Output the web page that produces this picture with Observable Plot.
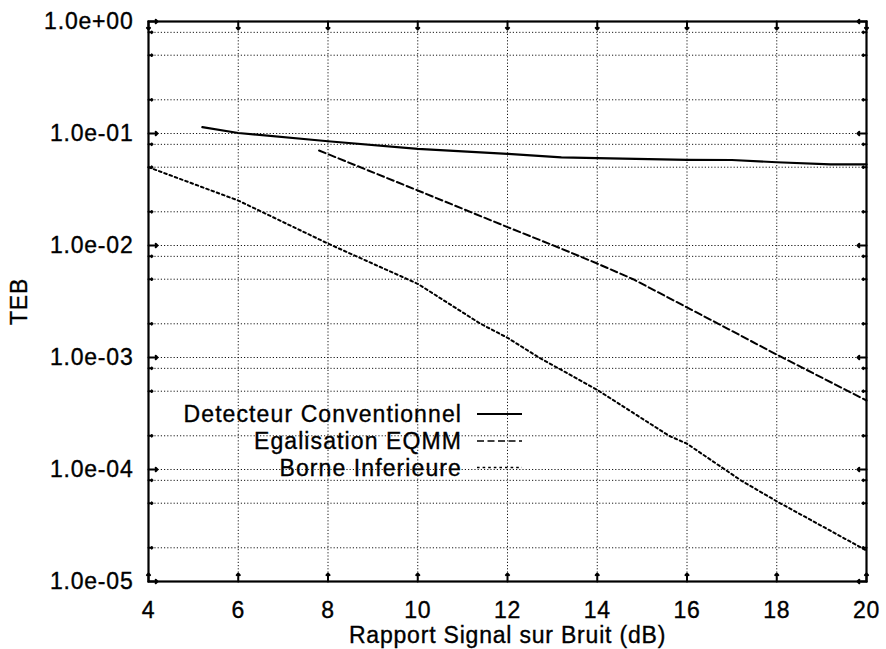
<!DOCTYPE html>
<html><head><meta charset="utf-8">
<script src="https://cdn.jsdelivr.net/npm/d3@7"></script>
<script src="https://cdn.jsdelivr.net/npm/@observablehq/plot@0.6"></script>
<style>
body{margin:0;background:#fff;}
#wrap{position:relative;width:886px;height:649px;overflow:hidden;}
#chart svg text{letter-spacing:0.8px;stroke:#000;stroke-width:0.35px;}
#legend{position:absolute;left:0;top:0;pointer-events:none;}
</style></head><body>
<div id="wrap"><div id="chart"></div></div>
<script>
// ---- data ----
const seriesNames = ["Detecteur Conventionnel", "Egalisation EQMM", "Borne Inferieure"];

const detX = [5.2, 6, 8, 10, 12, 13.2, 14, 16, 17, 18, 19.2, 20];
const detY = [0.114, 0.101, 0.0853, 0.073, 0.0659, 0.0612, 0.0602, 0.0582, 0.058, 0.0554, 0.0529, 0.0529];

const eqX = [7.8, 10, 12, 13, 14, 14.8, 16, 16.7, 18, 18.6, 20];
const eqY = [0.0705, 0.031, 0.0146, 0.0101, 0.0069, 0.0050, 0.0028, 0.0020, 0.00106, 0.0008, 0.000413];

const bornX = [4, 6, 8, 10, 11.4, 12, 12.7, 14, 15.6, 16, 17.2, 18, 20];
const bornY = [0.05, 0.0252, 0.0104, 0.00455, 0.002, 0.0015, 0.001, 0.000514, 0.0002, 0.00017, 0.00008, 0.000052, 0.0000189];

const xTicks = [4, 6, 8, 10, 12, 14, 16, 18, 20];
const yTicks = [1e-5, 1e-4, 1e-3, 1e-2, 1e-1, 1];
const yTickLabels = ["1.0e-05", "1.0e-04", "1.0e-03", "1.0e-02", "1.0e-01", "1.0e+00"];
const yMinor = [2e-5, 5e-5, 8e-5, 2e-4, 5e-4, 8e-4, 2e-3, 5e-3, 8e-3, 2e-2, 5e-2, 8e-2, 2e-1, 5e-1, 8e-1];

const xLabel = "Rapport Signal sur Bruit (dB)";
const yLabel = "TEB";

// ---- build ----
const rows = [];
detX.forEach((x, i) => rows.push({series: seriesNames[0], x, y: detY[i]}));
eqX.forEach((x, i) => rows.push({series: seriesNames[1], x, y: eqY[i]}));
bornX.forEach((x, i) => rows.push({series: seriesNames[2], x, y: bornY[i]}));

const dashes = {[seriesNames[0]]: null, [seriesNames[1]]: "7,3.5", [seriesNames[2]]: "2.6,3"};
const widths = {[seriesNames[0]]: 2.2, [seriesNames[1]]: 2, [seriesNames[2]]: 2};

const font = '"Liberation Sans", Arial, Helvetica, sans-serif';
const gridStyle = {stroke: "#000", strokeWidth: 1, strokeDasharray: "1.2,2", strokeOpacity: 0.9};

const marks = [
  Plot.ruleY(yTicks.concat(yMinor), gridStyle),
  Plot.ruleX(xTicks, gridStyle),
  // inward ticks
  Plot.vector(xTicks, {x: d => d, frameAnchor: "bottom", length: 8, rotate: 0, anchor: "start", strokeWidth: 2}),
  Plot.vector(xTicks, {x: d => d, frameAnchor: "top", length: 8, rotate: 180, anchor: "start", strokeWidth: 2}),
  Plot.vector(yTicks, {y: d => d, frameAnchor: "left", length: 9, rotate: 90, anchor: "start", strokeWidth: 2}),
  Plot.vector(yTicks, {y: d => d, frameAnchor: "right", length: 9, rotate: -90, anchor: "start", strokeWidth: 2}),
  Plot.vector(yMinor, {y: d => d, frameAnchor: "left", length: 4, rotate: 90, anchor: "start", strokeWidth: 2}),
  Plot.vector(yMinor, {y: d => d, frameAnchor: "right", length: 4, rotate: -90, anchor: "start", strokeWidth: 2}),
];
seriesNames.forEach(name => {
  marks.push(Plot.line(rows.filter(d => d.series === name), {
    x: "x", y: "y", stroke: "#000", strokeWidth: widths[name],
    strokeDasharray: dashes[name], curve: "linear"
  }));
});
marks.push(
  Plot.frame({stroke: "#000", strokeWidth: 2.2}),
  Plot.axisX(xTicks, {tickSize: 0, tickPadding: 20, fontSize: 23, label: xLabel, labelAnchor: "center", labelOffset: 61, labelArrow: "none"}),
  Plot.axisY(yTicks, {tickSize: 0, tickPadding: 15, fontSize: 23, tickFormat: d => yTickLabels[yTicks.indexOf(d)], label: yLabel, labelAnchor: "center", labelOffset: 138, labelArrow: "none"})
);

const chart = Plot.plot({
  width: 886, height: 649,
  marginLeft: 148, marginRight: 20, marginTop: 21, marginBottom: 68,
  style: {fontFamily: font, fontSize: "23px", background: "#fff", color: "#000"},
  x: {domain: [4, 20]},
  y: {type: "log", domain: [1e-5, 1]},
  marks
});
document.getElementById("chart").appendChild(chart);

// ---- legend (overlay) ----
const leg = d3.select("#wrap").append("svg").attr("id", "legend")
  .attr("width", 886).attr("height", 649);
const rowY = [414, 441, 467.5];
seriesNames.forEach((name, i) => {
  leg.append("text").attr("x", 462).attr("y", rowY[i] + 8.2)
    .attr("text-anchor", "end").attr("font-family", font).attr("font-size", 23)
    .style("letter-spacing", "1.1px").attr("stroke", "#000").attr("stroke-width", 0.35)
    .attr("fill", "#000").text(name);
  leg.append("line").attr("x1", 477).attr("x2", 522).attr("y1", rowY[i]).attr("y2", rowY[i])
    .attr("stroke", "#000").attr("stroke-width", i === 0 ? 2 : 1.6)
    .attr("stroke-dasharray", dashes[name]);
});
</script>
</body></html>
